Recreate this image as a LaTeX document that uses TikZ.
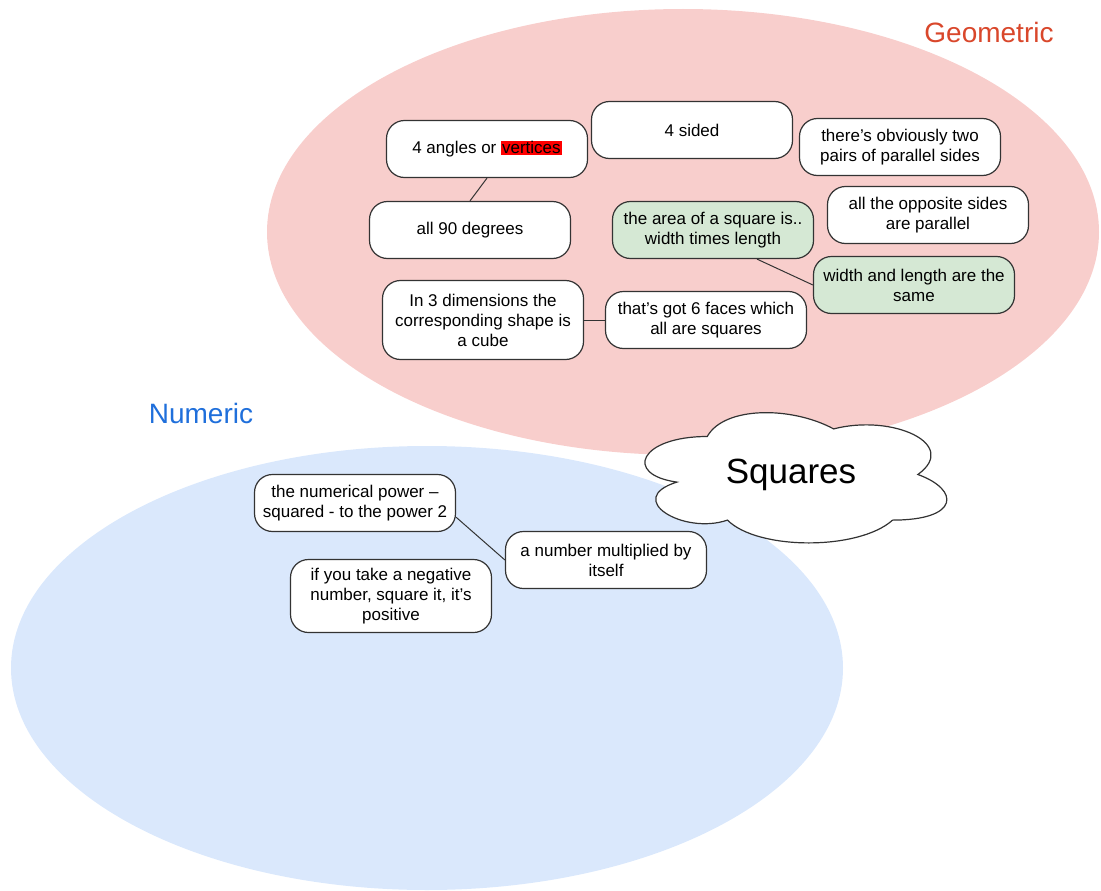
\documentclass[tikz,border=0pt]{standalone}
\usepackage{fontspec}
\setmainfont{Liberation Sans}
\definecolor{geofill}{HTML}{F8CECC}
\definecolor{numfill}{HTML}{DAE8FC}
\definecolor{keyfill}{HTML}{D5E8D4}
\definecolor{geotext}{HTML}{D9472B}
\definecolor{numtext}{HTML}{1F6FDB}
\definecolor{edge}{HTML}{333333}
\tikzstyle{line} = [draw=edge, line width=1pt]
\tikzstyle{note} = [rectangle, draw=edge, line width=1.2pt, fill=white, rounded corners=18pt, align=center, minimum width=201pt, minimum height=57pt, inner sep=3pt, font=\fontsize{17}{20}\selectfont]
\tikzstyle{keynote} = [note, fill=keyfill]
\tikzstyle{setname} = [font=\fontsize{28}{32}\selectfont]
\tikzstyle{thought} = [draw=edge, line width=1.2pt, fill=white]

\begin{document}
\begin{tikzpicture}[x=1pt, y=-1pt]
	\useasboundingbox (0,0) rectangle (1101,891);
	% the two sets
	\fill [geofill] (683,232) ellipse [x radius=416pt, y radius=223pt];
	\fill [numfill] (427,668) ellipse [x radius=416pt, y radius=222pt];
	\node [setname, text=geotext] (geo) at (989,32) {Geometric};
	\node [setname, text=numtext] (num) at (201,413) {Numeric};
	% geometric notes
	\node [note] (angles) at (487,149) {4 angles or {\setlength{\fboxsep}{1pt}\colorbox{red}{vertices}}};
	\node [note] (sided) at (692,130) {4 sided};
	\node [note] (pairs) at (900,147) {there’s obviously two\\pairs of parallel sides};
	\node [note] (degrees) at (470,230) {all 90 degrees};
	\node [keynote] (area) at (713,230) {the area of a square is..\\width times length};
	\node [note] (opposite) at (928,215) {all the opposite sides\\are parallel};
	\node [keynote] (same) at (914,285) {width and length are the\\same};
	\node [note, minimum height=79pt] (cube) at (483,320) {In 3 dimensions the\\corresponding shape is\\a cube};
	\node [note] (faces) at (706,320) {that's got 6 faces which\\all are squares};
	% numeric notes
	\node [note] (power) at (355,503) {the numerical power –\\squared - to the power 2};
	\node [note] (multiplied) at (606,560) {a number multiplied by\\itself};
	\node [note, minimum height=73pt] (negative) at (391,596) {if you take a negative\\number, square it, it’s\\positive};
	% the cloud in the middle
	\begin{scope}[shift={(623,398.5)}, x=337pt, y=-152pt]
		\draw [thought] (0.25,0.25) .. controls (0.05,0.25) and (0,0.5) .. (0.16,0.55)
			.. controls (0,0.66) and (0.18,0.9) .. (0.31,0.8)
			.. controls (0.4,1) and (0.7,1) .. (0.8,0.8)
			.. controls (1,0.8) and (1,0.6) .. (0.875,0.5)
			.. controls (1,0.3) and (0.8,0.1) .. (0.625,0.2)
			.. controls (0.5,0.05) and (0.3,0.05) .. (0.25,0.25) -- cycle;
	\end{scope}
	\node [font=\fontsize{35}{40}\selectfont] (squares) at (791,475) {Squares};
	\path [line] (angles.south) -- (degrees.north);
	\path [line] ([xshift=44pt]area.south) -- (same.west);
	\path [line] (cube.east) -- (faces.west);
	\path [line] (power.-8) -- (multiplied.west);
\end{tikzpicture}
\end{document}
